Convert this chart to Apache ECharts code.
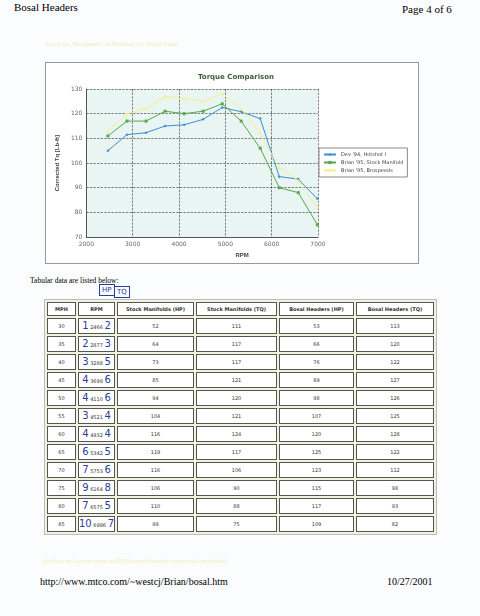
<!DOCTYPE html>
<html><head><meta charset="utf-8">
<script src="https://cdn.jsdelivr.net/npm/echarts@6/dist/echarts.min.js"></script>
<style>
body{margin:0;width:480px;height:616px;background:#fbfcfd;font-family:"Liberation Serif",serif;position:relative;overflow:hidden}
.abs{position:absolute}
#chart{position:absolute;left:45px;top:62px;width:372px;height:200px;border:1px solid #999;background:#fff}
table{position:absolute;left:44px;top:299px;border-collapse:separate;border-spacing:2px;background:#f2f2de;border:1px solid #bbb;font-family:"DejaVu Sans",sans-serif;font-size:5px;color:#333}
td,th{border:1px solid #555;background:#fff;text-align:center;height:14px;padding:0;white-space:nowrap}
th{font-weight:bold;font-size:5px;height:12px}
.hw{font-family:"DejaVu Sans",sans-serif;color:#2a3d9a;font-size:10px;line-height:10px}
</style></head><body>
<div class="abs" style="left:14px;top:1px;font-size:11px">Bosal Headers</div>
<div class="abs" style="left:402px;top:3px;font-size:11px">Page 4 of 6</div>
<div class="abs" style="left:45px;top:40px;font-size:7px;color:#f3f0b0">Stock vs. Brospeeds on Hotshot 1st Dyno Runs</div>
<div id="chart"></div>
<div class="abs" style="left:30px;top:276px;font-size:7.5px">Tabular data are listed below:</div>
<div class="abs hw" style="left:99px;top:284px;font-size:7px;border:1px solid #2a3d9a;padding:0 2px">HP</div>
<div class="abs hw" style="left:114px;top:286px;font-size:7px;border:1px solid #2a3d9a;padding:0 2px">TQ</div>
<table id="tbl"></table>
<div class="abs" style="left:42px;top:558px;font-size:6px;color:#f3f0b0">Absolute and percent gains in HP (Brospeed headers versus stock manifolds)</div>
<div class="abs" style="left:40px;top:576px;font-size:10px">http://www.mtco.com/~westcj/Brian/bosal.htm</div>
<div class="abs" style="left:387px;top:576px;font-size:10px">10/27/2001</div>
<script>
const mph=[30,35,40,45,50,55,60,65,70,75,80,85];
const rpm=[2466,2877,3288,3699,4110,4521,4932,5342,5753,6164,6575,6986];
const hwL=['1','2','3','4','4','3','4','6','7','9','7','10'];
const hwR=['2','3','5','6','6','4','4','5','6','8','5','7'];
const stockHP=[52,64,73,85,94,104,116,119,116,106,110,99];
const stockTQ=[111,117,117,121,120,121,124,117,106,90,88,75];
const bosalHP=[53,66,76,89,98,107,120,125,123,115,117,109];
const bosalTQ=[113,120,122,127,126,125,128,122,112,98,93,82];
const devTQ=[105,111.5,112.3,115,115.5,117.7,122.5,120.8,118,94.5,93.5,85.5];
const headers=['MPH','RPM','Stock Manifolds (HP)','Stock Manifolds (TQ)','Bosal Headers (HP)','Bosal Headers (TQ)'];
const widths=[27,34,75,79,73,76];
let h='<tr>'+headers.map((t,i)=>`<th style="width:${widths[i]}px">${t}</th>`).join('')+'</tr>';
for(let i=0;i<mph.length;i++){
 h+=`<tr><td>${mph[i]}</td><td><span class="hw">${hwL[i]}</span> ${rpm[i]} <span class="hw">${hwR[i]}</span></td><td>${stockHP[i]}</td><td>${stockTQ[i]}</td><td>${bosalHP[i]}</td><td>${bosalTQ[i]}</td></tr>`;
}
document.getElementById('tbl').innerHTML=h;
const pair=a=>rpm.map((r,i)=>[r,a[i]]);
const c=echarts.init(document.getElementById('chart'));
const ax={color:'#666',fontSize:6,fontFamily:'DejaVu Sans'};
c.setOption({
 animation:false,
 title:{text:'Torque Comparison',left:147,top:6,textStyle:{fontSize:7,fontWeight:'bold',color:'#3c5a3c',fontFamily:'DejaVu Sans'}},
 grid:{left:24,top:26,width:248,height:153,backgroundColor:'#e8f5f3',show:true,borderWidth:0},
 legend:{orient:'vertical',left:273,top:85,backgroundColor:'#fff',borderColor:'#888',borderWidth:1,padding:4,itemGap:3,itemWidth:12,itemHeight:4,textStyle:{fontSize:5,color:'#444',fontFamily:'DejaVu Sans'}},
 xAxis:{type:'value',min:2000,max:7000,interval:1000,name:'RPM',nameLocation:'middle',nameGap:8,nameTextStyle:{fontSize:6,fontWeight:'bold',color:'#444',padding:[0,0,0,80]},
  axisLine:{lineStyle:{color:'#555'}},axisTick:{show:false},axisLabel:Object.assign({margin:4,formatter:v=>String(v)},ax),
  splitLine:{show:true,lineStyle:{color:'#333',type:'dashed',width:0.6}}},
 yAxis:{type:'value',min:70,max:130,interval:10,name:'Corrected Tq [Lb-ft]',nameLocation:'middle',nameGap:14,nameTextStyle:{fontSize:6,fontWeight:'bold',color:'#444'},
  axisLine:{show:true,lineStyle:{color:'#555'}},axisTick:{show:false},axisLabel:Object.assign({margin:4},ax),
  splitLine:{show:true,lineStyle:{color:'#333',type:'dashed',width:0.6}}},
 series:[
  {name:"Dev '94, Hotshot I",type:'line',data:pair(devTQ),color:'#3a8fd0',symbol:'diamond',symbolSize:3,lineStyle:{width:1}},
  {name:"Brian '95, Stock Manifold",type:'line',data:pair(stockTQ),color:'#5aa84a',symbol:'rect',symbolSize:3,lineStyle:{width:1}},
  {name:"Brian '95, Brospeeds",type:'line',data:pair(bosalTQ),color:'#f4f08a',symbol:'triangle',symbolSize:3,lineStyle:{width:1}}
 ]
});
</script></body></html>
